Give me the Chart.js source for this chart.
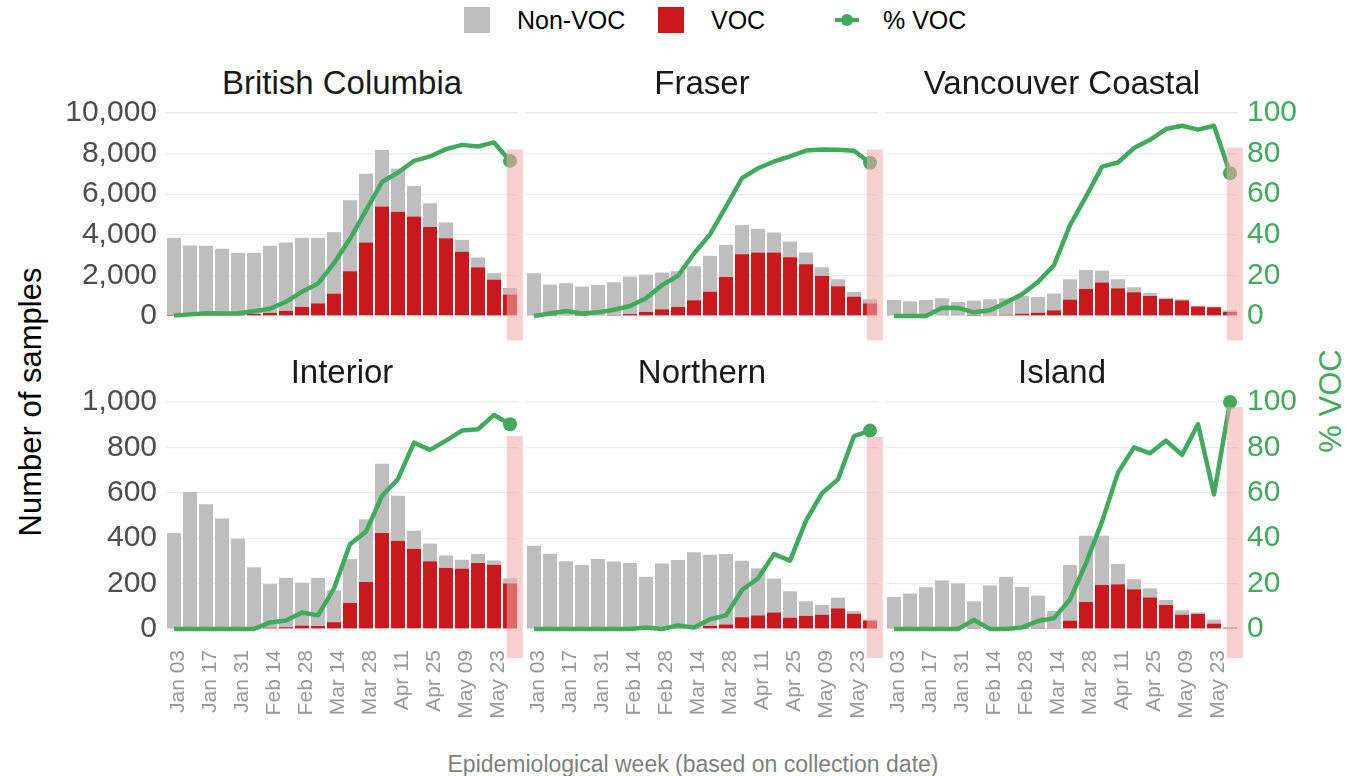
<!DOCTYPE html>
<html>
<head>
<meta charset="utf-8">
<title>VOC samples by health authority</title>
<script src="https://cdn.jsdelivr.net/npm/chart.js@4.4.1/dist/chart.umd.min.js"></script>
<style>
  body { margin: 0; background: #fff; font-family: "Liberation Sans", Arial, sans-serif; }
  #wrap { position: relative; width: 1347px; height: 776px; overflow: hidden; }
  #wrap canvas { position: absolute; }
  .txt { position: absolute; white-space: nowrap; }
  .strip { font-size: 33px; line-height: 32px; color: #1a1a1a; text-align: center; }
  .key { position: absolute; }
</style>
</head>
<body>
<div id="wrap">
  <div class="key" style="left:464px;top:7px;width:26px;height:26px;background:#bebebe"></div>
  <div class="txt" style="left:517px;top:6px;font-size:25px;line-height:28px">Non-VOC</div>
  <div class="key" style="left:658px;top:7px;width:26px;height:26px;background:#cb181d"></div>
  <div class="txt" style="left:711px;top:6px;font-size:25px;line-height:28px">VOC</div>
  <div class="key" style="left:835px;top:18px;width:24px;height:4px;background:#41ab5d"></div>
  <div class="key" style="left:841px;top:14px;width:12px;height:12px;border-radius:50%;background:#41ab5d"></div>
  <div class="txt" style="left:883px;top:6px;font-size:25px;line-height:28px">% VOC</div>

  <div class="txt" style="left:31px;top:402px;font-size:31px;transform:translate(-50%,-50%) rotate(-90deg)">Number of samples</div>
  <div class="txt" style="left:1331px;top:401px;font-size:31px;color:#41ab5d;transform:translate(-50%,-50%) rotate(-90deg)">% VOC</div>
  <div class="txt" style="left:693px;top:764px;font-size:23px;color:#7f7f7f;transform:translate(-50%,-50%)">Epidemiological week (based on collection date)</div>
</div>
<script>
const weeks = ["Jan 03", "Jan 10", "Jan 17", "Jan 24", "Jan 31", "Feb 07", "Feb 14", "Feb 21",
  "Feb 28", "Mar 07", "Mar 14", "Mar 21", "Mar 28", "Apr 04", "Apr 11", "Apr 18", "Apr 25",
  "May 02", "May 09", "May 16", "May 23", "May 30"];
const tickWeeks = ["Jan 03", "Jan 17", "Jan 31", "Feb 14", "Feb 28", "Mar 14", "Mar 28",
  "Apr 11", "Apr 25", "May 09", "May 23"];
const regions = ["British Columbia", "Fraser", "Vancouver Coastal", "Interior", "Northern", "Island"];

// sample counts per week
const bcNonVoc = [3840, 3440, 3410, 3260, 3055, 3010, 3310, 3370, 3405, 3225, 3030, 3495, 3390, 2780, 2125, 1495, 1170, 775, 590, 480, 315, 320];
const bcVoc = [10, 30, 50, 50, 55, 100, 150, 250, 445, 625, 1100, 2205, 3620, 5400, 5135, 4905, 4380, 3835, 3160, 2400, 1795, 1060];
const bcPct = [0.2, 0.8, 1.3, 1.2, 1.4, 2.3, 3.6, 7, 12, 16, 26, 38, 52, 66, 70.7, 76.4, 78.6, 82.2, 84.3, 83.5, 85.5, 76.4];

const fraserNonVoc = [2107, 1532, 1578, 1433, 1500, 1612, 1842, 1840, 1810, 1760, 1675, 1763, 1581, 1432, 1169, 988, 773, 576, 428, 345, 230, 198];
const fraserVoc = [0, 15, 35, 15, 30, 50, 100, 200, 330, 445, 775, 1200, 1925, 3045, 3127, 3127, 2897, 2551, 1975, 1465, 955, 625];
const fraserPct = [0, 1.2, 2.5, 1.2, 1.8, 3.1, 4.9, 8.7, 15.2, 19.8, 30.8, 40.2, 53.9, 67.9, 72.8, 76.1, 78.6, 81.5, 82, 81.9, 81.4, 75.5];

const vchNonVoc = [790, 724, 790, 837, 661, 742, 798, 812, 878, 778, 823, 1000, 936, 588, 445, 245, 151, 70, 53, 42, 29, 83];
const vchVoc = [0, 0, 0, 35, 30, 15, 25, 60, 110, 160, 280, 810, 1335, 1650, 1365, 1170, 985, 835, 770, 468, 432, 197];
const vchPct = [0, 0, 0, 4.1, 4, 1.8, 2.8, 6.6, 10.7, 16.8, 25, 44.8, 58.8, 73.6, 75.6, 82.7, 86.8, 92.1, 93.7, 91.8, 93.7, 70.3];

const interiorNonVoc = [423, 603, 550, 487, 398, 272, 192, 217, 189, 212, 140, 193, 276, 305, 198, 79, 77, 55, 39, 39, 19, 22];
const interiorVoc = [0, 0, 0, 0, 0, 0, 6, 8, 15, 13, 30, 115, 207, 423, 389, 354, 299, 269, 266, 291, 283, 201];
const interiorPct = [0, 0, 0, 0, 0, 0, 2.9, 3.7, 7.3, 6, 17.9, 37.3, 42.9, 58.6, 66.1, 82.1, 78.9, 83, 87.4, 88, 94.3, 90.2];

const northernNonVoc = [367, 332, 298, 282, 308, 297, 291, 228, 288, 299, 336, 313, 310, 249, 207, 149, 116, 64, 43, 47, 12, 5];
const northernVoc = [0, 0, 0, 0, 0, 0, 0, 2, 0, 5, 2, 14, 20, 52, 60, 73, 50, 58, 63, 91, 67, 37];
const northernPct = [0, 0, 0, 0, 0, 0, 0, 0.7, 0, 1.6, 0.7, 4.3, 6, 17.2, 22.3, 33, 30.1, 47.7, 59.8, 65.9, 85, 87.4];

const islandNonVoc = [141, 156, 184, 214, 201, 117, 192, 230, 184, 142, 75, 245, 292, 217, 89, 44, 40, 22, 19, 7, 17, 0];
const islandVoc = [0, 0, 0, 0, 0, 5, 0, 0, 1, 5, 4, 37, 119, 194, 197, 175, 139, 106, 63, 66, 24, 6];
const islandPct = [0, 0, 0, 0, 0, 4, 0, 0, 0.7, 3.5, 4.8, 13, 29, 47.3, 68.9, 80, 77.4, 83, 76.7, 90.2, 59.3, 100];

// axis ranges per facet row
const countMax = [10000, 1000];
const countStep = [2000, 200];
// shaded "incomplete week" band, in % VOC units
const bandTop = [82, 82, 83, 85, 84.6, 97.8];
const bandBottom = [-12, -12.8];

const panels = [
  { nonVoc: bcNonVoc, voc: bcVoc, pct: bcPct },
  { nonVoc: fraserNonVoc, voc: fraserVoc, pct: fraserPct },
  { nonVoc: vchNonVoc, voc: vchVoc, pct: vchPct },
  { nonVoc: interiorNonVoc, voc: interiorVoc, pct: interiorPct },
  { nonVoc: northernNonVoc, voc: northernVoc, pct: northernPct },
  { nonVoc: islandNonVoc, voc: islandVoc, pct: islandPct }
];

const GREY = "#bebebe";
const RED = "#cb181d";
const GREEN = "#41ab5d";

// layout
const AREA_LEFT = 166, AREA_W = 352, COL_STEP = 360;
const ROW_TOP = [113, 402], ROW_H = [203, 227];
const AXIS_L = 166, AXIS_R = 110, PAD_T = 40, AXIS_B = 110;

Chart.defaults.font.family = '"Liberation Sans", Arial, sans-serif';

const vocBand = {
  id: "vocBand",
  afterDatasetsDraw(chart, args, opts) {
    const x = chart.scales.x;
    const y1 = chart.scales.y1;
    const n = chart.data.labels.length;
    const w = x.width / n;
    const cx = x.getPixelForValue(n - 1);
    const top = y1.getPixelForValue(opts.top);
    const bottom = y1.getPixelForValue(opts.bottom);
    const ctx = chart.ctx;
    ctx.save();
    ctx.fillStyle = "rgba(243,170,170,0.55)";
    ctx.fillRect(cx - 0.2 * w, top, w, bottom - top);
    ctx.restore();
  }
};
Chart.register(vocBand);

function makePanel(i) {
  const p = panels[i];
  const row = Math.floor(i / 3);
  const col = i % 3;
  const wrap = document.getElementById("wrap");
  const left = AREA_LEFT + col * COL_STEP;

  const title = document.createElement("div");
  title.className = "txt strip";
  title.style.left = left + "px";
  title.style.width = AREA_W + "px";
  title.style.top = (ROW_TOP[row] - 46) + "px";
  title.textContent = regions[i];
  wrap.appendChild(title);

  const canvas = document.createElement("canvas");
  canvas.width = AXIS_L + AREA_W + AXIS_R;
  canvas.height = PAD_T + ROW_H[row] + AXIS_B;
  canvas.style.left = (left - AXIS_L) + "px";
  canvas.style.top = (ROW_TOP[row] - PAD_T) + "px";
  canvas.style.width = canvas.width + "px";
  canvas.style.height = canvas.height + "px";
  wrap.appendChild(canvas);

  const last = weeks.length - 1;

  new Chart(canvas, {
    type: "bar",
    data: {
      labels: weeks,
      datasets: [
        {
          type: "line",
          label: "% VOC",
          data: p.pct,
          yAxisID: "y1",
          borderColor: GREEN,
          backgroundColor: GREEN,
          borderWidth: 4.5,
          borderJoinStyle: "round",
          tension: 0,
          pointRadius: ctx => ctx.dataIndex === last ? 7 : 0,
          pointBorderWidth: 0,
          clip: false,
          order: 1
        },
        {
          label: "VOC",
          data: p.voc,
          yAxisID: "y",
          backgroundColor: RED,
          barPercentage: 0.875,
          categoryPercentage: 1,
          order: 2
        },
        {
          label: "Non-VOC",
          data: p.nonVoc,
          yAxisID: "y",
          backgroundColor: GREY,
          barPercentage: 0.875,
          categoryPercentage: 1,
          order: 3
        }
      ]
    },
    options: {
      responsive: false,
      animation: false,
      devicePixelRatio: 1,
      layout: { padding: { top: PAD_T, left: 0, right: 0, bottom: 0 }, autoPadding: false },
      plugins: {
        legend: { display: false },
        tooltip: { enabled: false },
        vocBand: { top: bandTop[i], bottom: bandBottom[row] }
      },
      scales: {
        x: {
          stacked: true,
          grid: { display: false, drawTicks: false },
          border: { display: false },
          ticks: {
            display: row === 1,
            autoSkip: false,
            minRotation: 90,
            maxRotation: 90,
            padding: 21,
            labelOffset: 4,
            color: "#999999",
            font: { size: 21 },
            callback: (v, idx) => tickWeeks.includes(weeks[idx]) ? weeks[idx] : ""
          },
          afterFit: s => { s.height = AXIS_B; }
        },
        y: {
          stacked: true,
          position: "left",
          min: 0,
          max: countMax[row],
          grid: { color: "#ebebeb", lineWidth: 1.3, drawTicks: false },
          border: { display: false },
          ticks: {
            display: col === 0,
            stepSize: countStep[row],
            padding: 9,
            color: "#4d4d4d",
            font: { size: 30 },
            callback: v => v.toLocaleString("en-US")
          },
          afterFit: s => { s.width = AXIS_L; }
        },
        y1: {
          position: "right",
          min: 0,
          max: 100,
          grid: { display: false, drawTicks: false },
          border: { display: false },
          ticks: {
            display: col === 2,
            stepSize: 20,
            padding: 9,
            color: GREEN,
            font: { size: 30 }
          },
          afterFit: s => { s.width = AXIS_R; }
        }
      }
    }
  });
}

window.onload = () => {
  for (let i = 0; i < panels.length; i++) makePanel(i);
};
</script>
</body>
</html>
